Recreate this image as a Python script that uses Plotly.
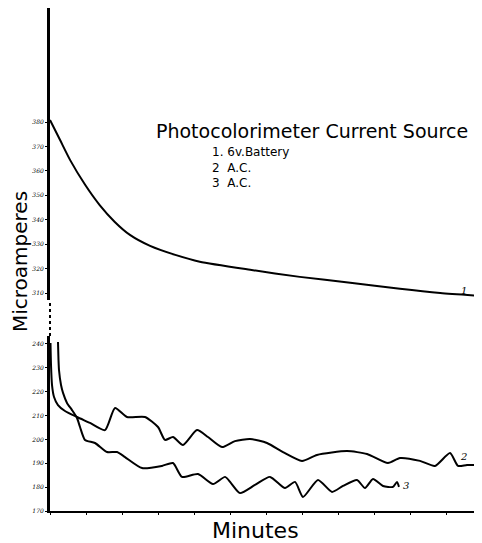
import plotly.graph_objects as go

# ---- data ----
# x: minutes (arbitrary scale, axis has no labels), y: microamperes
t1 = [0, 1.4, 2.8, 4.9, 6.9, 9.0, 11.1, 13.9, 17.4, 20.8, 27.8, 34.7, 41.7, 48.6, 54.2, 60]
v1 = [380.8, 372.6, 364.4, 354.2, 346.0, 339.1, 333.8, 329.3, 325.6, 322.8, 319.5, 316.6, 314.2, 311.7, 310.0, 308.8]

t2 = [0.07, 0.14, 0.28, 0.56, 1.11, 2.08, 3.75, 5.56, 7.64, 9.03, 10.69, 13.19, 15.0, 15.97,
      17.08, 18.47, 20.42, 21.94, 23.89, 25.69, 27.78, 30.14, 32.36, 35.0, 37.08, 41.25,
      44.03, 46.94, 48.61, 51.39, 53.47, 55.56, 56.67, 57.92, 60]
v2 = [240.4, 231.2, 222.8, 217.8, 214.4, 211.9, 209.4, 206.9, 203.9, 213.2, 209.4, 209.4, 205.2, 199.8,
      201.0, 197.7, 203.9, 201.0, 196.8, 199.3, 200.2, 198.5, 194.7, 191.0, 193.5, 195.1,
      193.9, 190.1, 192.2, 191.0, 188.9, 194.3, 188.9, 189.3, 189.3]

t3 = [1.11, 1.18, 1.25, 1.53, 1.81, 2.36, 3.06, 3.75, 4.17, 4.86, 6.25, 7.92, 9.31, 10.42,
      12.78, 15.56, 17.08, 18.33, 20.56, 22.64, 24.31, 25.14, 26.39, 28.47, 30.56, 32.64,
      34.03, 35.14, 37.22, 39.17, 40.69, 42.64, 43.75, 44.86, 46.25, 47.64, 48.19, 48.47]
v3 = [240.8, 233.3, 229.1, 222.8, 219.5, 215.3, 212.3, 209.0, 205.2, 199.8, 198.5, 194.7, 194.7, 192.6,
      188.0, 188.9, 190.1, 184.3, 185.5, 181.3, 184.3, 181.7, 177.5, 180.9, 184.3, 179.6,
      182.2, 175.9, 183.0, 178.0, 180.5, 183.0, 179.6, 183.4, 180.5, 180.1, 182.2, 180.1]

upper_ticks = [310, 320, 330, 340, 350, 360, 370, 380]
lower_ticks = [170, 180, 190, 200, 210, 220, 230, 240]

title_text = "Photocolorimeter Current Source"
legend_lines = ["1. 6v.Battery", "2  A.C.", "3  A.C."]
curve_labels = ["1", "2", "3"]

# ---- geometry (page body has an 8px margin) ----
O = 8
W, H = 482 - O, 543 - O
PL, PR, PT, PB = 50, 482, 8, 511   # plot area in page pixels
L = PL - O
R = (W + O) - PR
T = PT - O
B = (H + O) - PB
ph = PB - PT
pw = PR - PL

def py(y):  # page pixel y -> paper
    return (PB - y) / ph

def px(x):
    return (x - PL) / pw

line = dict(color="black", width=2, shape="spline", smoothing=0.6)

fig = go.Figure()
fig.add_trace(go.Scatter(x=t1, y=v1, mode="lines", line=line, xaxis="x", yaxis="y2", showlegend=False))
fig.add_trace(go.Scatter(x=t2, y=v2, mode="lines", line=line, xaxis="x", yaxis="y", showlegend=False))
fig.add_trace(go.Scatter(x=t3, y=v3, mode="lines", line=line, xaxis="x", yaxis="y", showlegend=False))

tickfont = dict(family="DejaVu Serif", size=6, color="black", style="italic")

low_top_px = 336
up_bot_px = 300
fig.update_layout(
    width=W, height=H,
    margin=dict(l=L, r=R, t=T, b=B, pad=0),
    paper_bgcolor="white", plot_bgcolor="white",
    xaxis=dict(range=[0, 60], showgrid=False, zeroline=False, showline=True,
               linecolor="black", linewidth=2, ticks="outside", ticklen=2,
               tickcolor="black", dtick=5, showticklabels=False, anchor="y",
               automargin=False),
    yaxis=dict(domain=[0, py(low_top_px)],
               range=[170, 170 + (PB - low_top_px) / 2.386],
               tickvals=lower_ticks, ticktext=[str(v) for v in lower_ticks],
               showgrid=False, zeroline=False, showline=True, linecolor="black",
               linewidth=3, ticks="outside", ticklen=2, tickcolor="black",
               tickfont=tickfont, anchor="x", automargin=False),
    yaxis2=dict(domain=[py(up_bot_px), 1],
                range=[310 - (up_bot_px - 293) / 2.443, 380 + (122 - PT) / 2.443],
                tickvals=upper_ticks, ticktext=[str(v) for v in upper_ticks],
                showgrid=False, zeroline=False, showline=True, linecolor="black",
                linewidth=3, ticks="outside", ticklen=2, tickcolor="black",
                tickfont=tickfont, anchor="x", automargin=False),
)

# dotted break in the vertical axis
fig.add_shape(type="line", xref="paper", yref="paper", x0=0, x1=0,
              y0=py(low_top_px), y1=py(up_bot_px),
              line=dict(color="black", width=2, dash="dot"))

fnt = "DejaVu Sans"
ann = []
ann.append(dict(text=title_text, x=px(312), y=py(131), xanchor="center", yanchor="middle",
                font=dict(family=fnt, size=19, color="black")))
ann.append(dict(text="<br>".join(legend_lines), x=px(210), y=py(143), xanchor="left",
                yanchor="top", align="left",
                font=dict(family=fnt, size=12, color="black")))
ann.append(dict(text="Microamperes", x=px(20), y=py(262), textangle=-90,
                xanchor="center", yanchor="middle",
                font=dict(family=fnt, size=20, color="black")))
ann.append(dict(text="Minutes", x=px(255), y=py(530), xanchor="center", yanchor="middle",
                font=dict(family=fnt, size=22, color="black")))
for txt, (xx, yy) in zip(curve_labels, [(464, 290), (463, 456), (406, 485)]):
    ann.append(dict(text=txt, x=px(xx), y=py(yy), xanchor="center", yanchor="middle",
                    font=dict(family="DejaVu Serif", size=10, color="black", style="italic")))
for a in ann:
    a.update(xref="paper", yref="paper", showarrow=False)
fig.update_layout(annotations=ann)

fig.write_html("out.html")
